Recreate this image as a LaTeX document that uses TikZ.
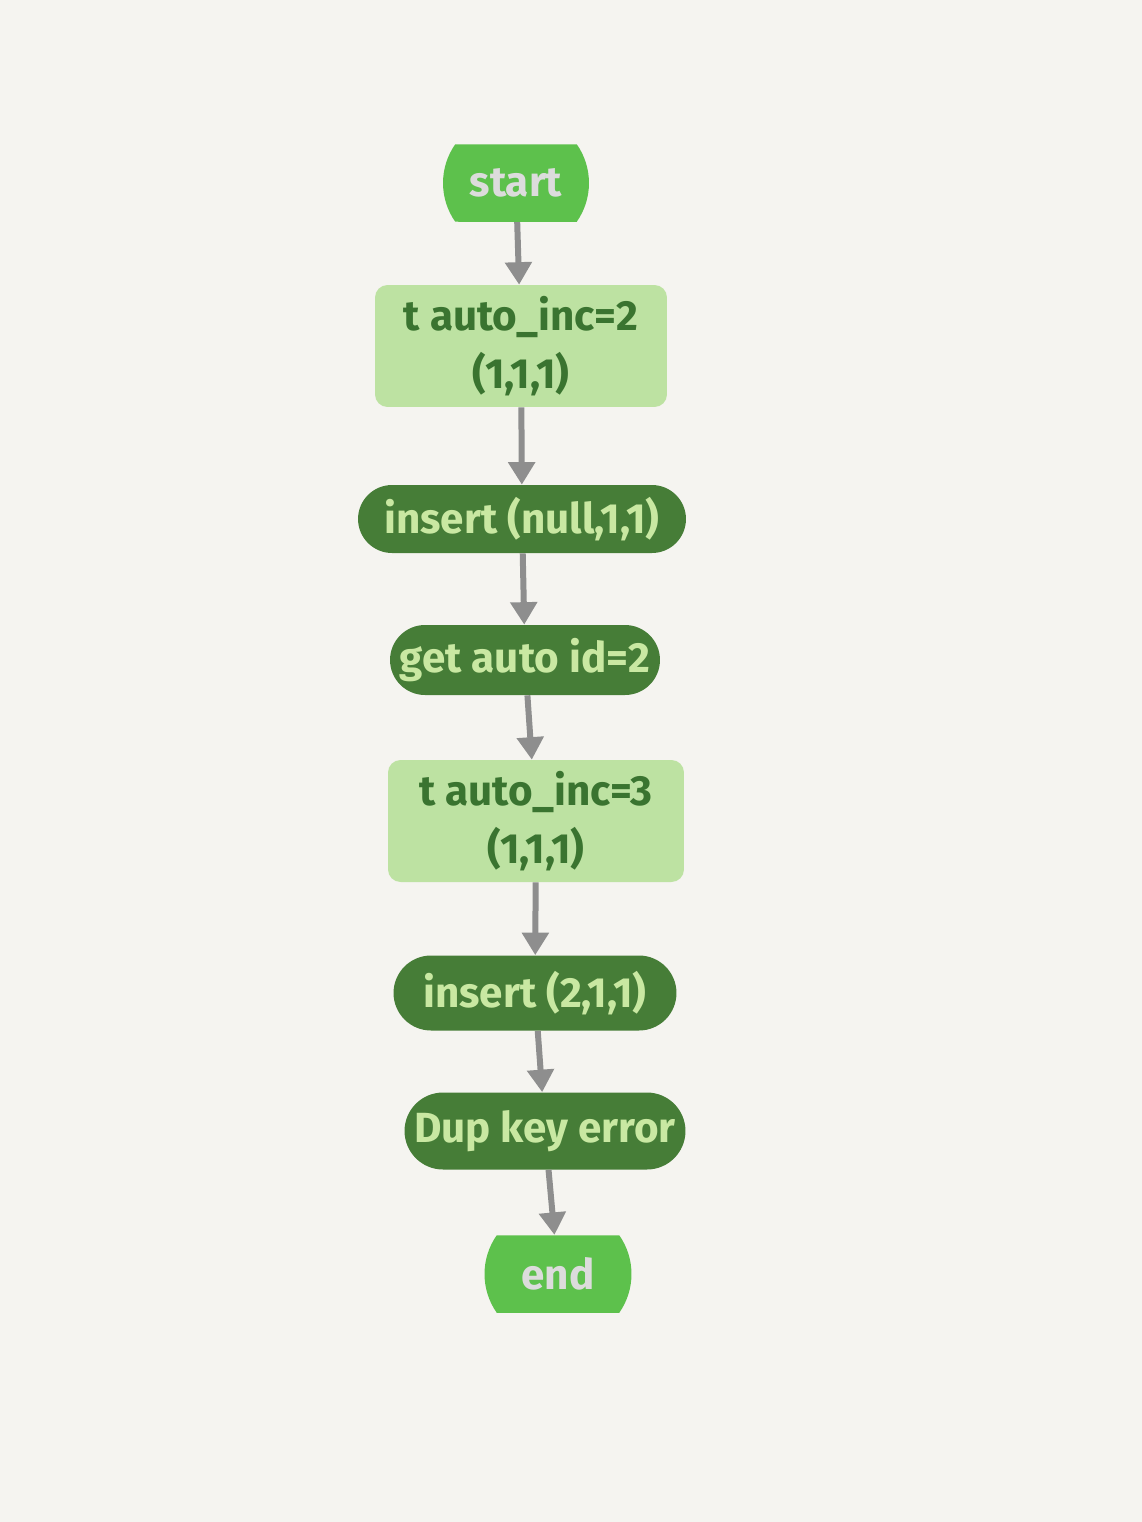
\documentclass[tikz,border=0pt]{standalone}
\usepackage{fontspec}
\setmainfont{Fira Sans}
\usetikzlibrary{shapes.misc,arrows.meta}

\definecolor{paper}{HTML}{F5F4F0}
\definecolor{termgreen}{HTML}{5DC14C}
\definecolor{termtext}{HTML}{DCDCDC}
\definecolor{boxgreen}{HTML}{BDE2A2}
\definecolor{boxtext}{HTML}{3A7430}
\definecolor{actgreen}{HTML}{467D37}
\definecolor{acttext}{HTML}{C9E8A2}
\definecolor{arrowgray}{HTML}{8E8E8E}

\tikzset{
  terminal/.style={rounded rectangle, rounded rectangle arc length=70,
    fill=termgreen, text=termtext, inner sep=0pt, minimum height=1.55cm,
    font=\fontsize{24}{30}\selectfont\bfseries},
  statebox/.style={rectangle, rounded corners=0.25cm, fill=boxgreen,
    text=boxtext, align=center, inner sep=0pt, minimum height=2.44cm,
    font=\fontsize{24}{33}\selectfont\bfseries},
  action/.style={rounded rectangle, fill=actgreen, text=acttext,
    inner sep=0pt, font=\fontsize{24}{30}\selectfont\bfseries},
  flow/.style={draw=arrowgray, line width=0.12cm,
    -{Triangle[width=0.52cm,length=0.45cm]}}
}

\begin{document}
\begin{tikzpicture}[x=0.02cm, y=-0.02cm]

%--- Page and background (coordinates in pixels of the sheet)
\useasboundingbox (0,0) rectangle (1142,1522);
\fill[paper] (0,0) rectangle (1142,1522);

%--- Steps, top to bottom
\node[terminal, minimum width=2.92cm] (start) at (516,183) {start};
\node[statebox, minimum width=5.84cm] (inc2) at (521,346) {t auto\_inc=2\\(1,1,1)};
\node[action, minimum width=6.56cm, minimum height=1.36cm] (insnull) at (522,519) {insert (null,1,1)};
\node[action, minimum width=5.4cm, minimum height=1.4cm] (getid) at (525,660) {get auto id=2};
\node[statebox, minimum width=5.92cm] (inc3) at (536,821) {t auto\_inc=3\\(1,1,1)};
\node[action, minimum width=5.66cm, minimum height=1.5cm] (instwo) at (535,993) {insert (2,1,1)};
\node[action, minimum width=5.62cm, minimum height=1.54cm] (dupkey) at (545,1131) {Dup key error};
\node[terminal, minimum width=2.94cm] (end) at (558,1274) {end};

%--- Arrows between steps
\draw[flow] (start) -- (inc2);
\draw[flow] (inc2) -- (insnull);
\draw[flow] (insnull) -- (getid);
\draw[flow] (getid) -- (inc3);
\draw[flow] (inc3) -- (instwo);
\draw[flow] (instwo) -- (dupkey);
\draw[flow] (dupkey) -- (end);

\end{tikzpicture}
\end{document}
